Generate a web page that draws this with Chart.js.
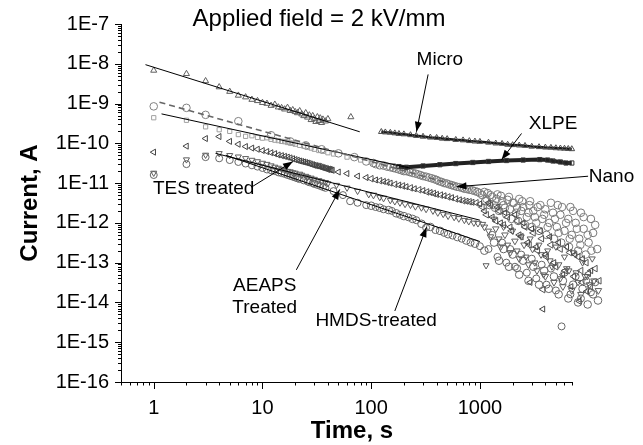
<!DOCTYPE html>
<html><head><meta charset="utf-8">
<script src="https://cdn.jsdelivr.net/npm/chart.js@4.4.0/dist/chart.umd.min.js"></script>
<style>html,body{margin:0;padding:0;background:#fff}#wrap{width:643px;height:445px}</style>
</head><body><div id="wrap"><canvas id="c" width="643" height="445"></canvas></div>
<script>
// ---- axis definitions ----
const X_MIN = 0.5, X_MAX = 7000, X_VIEW_MAX = 13000, Y_MIN = 1e-16, Y_MAX = 1e-7;
const xTickValues = [1, 10, 100, 1000];
const xTickLabels = ['1', '10', '100', '1000'];
const yTickValues = [1e-16, 1e-15, 1e-14, 1e-13, 1e-12, 1e-11, 1e-10, 1e-9, 1e-8, 1e-7];
const yTickLabels = ['1E-16', '1E-15', '1E-14', '1E-13', '1E-12', '1E-11', '1E-10', '1E-9', '1E-8', '1E-7'];
const titleText = 'Applied field = 2 kV/mm';
const xTitle = 'Time, s';
const yTitle = 'Current, A';

// ---- series: [time s, current A] ----
const microA = [[1,6.8e-9],[2,5.6e-9],[3,3.7e-9],[4,2.6e-9],[5,2.0e-9],[6,1.6e-9],[7,1.45e-9],[8,1.26e-9],[9,1.17e-9],[10,1.05e-9],[11,1.0e-9],[12,8.9e-10],[13,9.5e-10],[14,8.1e-10],[15,7.8e-10],[16,7.2e-10],[17,7.9e-10],[18,6.6e-10],[19,6.9e-10],[20,6.2e-10],[21,5.8e-10],[22,6.5e-10],[23,5.4e-10],[24,4.9e-10],[25,5.8e-10],[26,4.5e-10],[27,5.1e-10],[28,3.9e-10],[29,4.9e-10],[30,4.2e-10],[31,3.5e-10],[32,4.6e-10],[33,3.7e-10],[34,4.3e-10],[35,3.3e-10],[36,4.0e-10],[38,3.6e-10],[40,4.1e-10],[65,4.6e-10]];
const microB = [[124,1.95e-10],[135,1.9e-10],[150,1.86e-10],[165,1.8e-10],[180,1.74e-10],[200,1.7e-10],[230,1.62e-10],[260,1.55e-10],[300,1.48e-10],[350,1.41e-10],[400,1.38e-10],[450,1.32e-10],[500,1.29e-10],[600,1.23e-10],[700,1.2e-10],[800,1.15e-10],[900,1.12e-10],[1000,1.1e-10],[1200,1.05e-10],[1400,1.0e-10],[1600,9.8e-11],[1800,9.3e-11],[2000,9.1e-11],[2300,8.9e-11],[2600,8.7e-11],[3000,8.3e-11],[3500,8.1e-11],[4000,7.9e-11],[4500,7.8e-11],[5000,7.6e-11],[5500,7.5e-11],[6000,7.4e-11],[6500,7.3e-11],[7000,7.2e-11]];
const xlpeA = [[1,4.4e-10],[2,3.8e-10],[3,2.6e-10],[4,2.2e-10],[5,2.0e-10],[6,1.66e-10],[7,1.5e-10],[8,1.55e-10],[9,1.41e-10],[10,1.35e-10],[11,1.38e-10],[12,1.26e-10],[13,1.2e-10],[14,1.17e-10],[15,1.12e-10],[16,1.1e-10],[17,1.05e-10],[18,1.02e-10],[19,1.0e-10],[20,9.5e-11],[22,8.9e-11],[24,8.5e-11],[26,7.9e-11],[28,7.6e-11],[30,7.1e-11],[33,6.6e-11],[36,6.3e-11],[40,5.8e-11],[45,5.4e-11],[60,4.5e-11],[80,3.8e-11],[100,3.4e-11],[130,3.0e-11],[160,2.75e-11]];
const xlpeB = [[180,2.6e-11],[211,2.5e-11],[300,2.7e-11],[428,2.9e-11],[600,3.1e-11],[861,3.3e-11],[1200,3.5e-11],[1757,3.7e-11],[2500,3.8e-11],[3556,3.9e-11],[4200,3.8e-11],[4700,3.6e-11],[5500,3.4e-11],[6200,3.2e-11],[7000,3.2e-11]];
const nano = [[1,8.5e-10],[2,7.8e-10],[3,5.2e-10],[6,3.6e-10],[12,1.6e-10],[18,1.12e-10],[25,8.9e-11],[35,7.1e-11],[50,5.6e-11],[70,4.5e-11],[90,3.5e-11],[110,3.0e-11],[130,2.75e-11],[150,2.5e-11],[170,2.3e-11],[190,2.1e-11],[210,2.0e-11],[240,1.8e-11],[270,1.66e-11],[300,1.5e-11],[340,1.38e-11],[380,1.26e-11],[420,1.12e-11],[470,1.0e-11],[520,9.3e-12],[580,8.5e-12],[650,7.9e-12],[720,7.2e-12],[800,6.8e-12],[900,6.3e-12],[1000,5.6e-12],[1100,6.0e-12],[1150,4.0e-12],[1250,5.0e-12],[1350,2.8e-12],[1450,5.2e-12],[1600,3.5e-12],[1700,2.4e-12],[1850,4.5e-12],[2000,3.2e-12],[2150,1.8e-12],[2300,4.0e-12],[2500,2.5e-12],[2700,1.4e-12],[2900,3.5e-12],[3100,2.0e-12],[3300,1.0e-12],[3600,2.8e-12],[3900,1.6e-12],[4200,7.9e-13],[4500,3.2e-12],[4900,1.26e-12],[5300,5.6e-13],[5700,2.5e-12],[6200,1.0e-12],[6700,4.0e-13],[7200,2.0e-12],[7800,7.1e-13],[8400,2.8e-13],[9000,1.4e-12],[9800,5.0e-13],[10600,2.0e-13],[11500,8.9e-13]];
const nanoLate = [[105,3.2e-11],[120,2.8e-11],[140,2.6e-11],[160,2.4e-11],[180,2.2e-11],[200,2.0e-11],[225,1.9e-11],[255,1.74e-11],[285,1.58e-11],[320,1.45e-11],[360,1.32e-11],[400,1.2e-11],[445,1.07e-11],[495,9.8e-12],[550,8.9e-12],[615,8.1e-12],[685,7.6e-12],[760,7.1e-12],[850,6.6e-12],[950,6.0e-12],[1050,5.0e-12],[1120,3.55e-12],[1180,5.6e-12],[1230,2.8e-12],[1300,4.5e-12],[1380,2.4e-12],[1420,4.0e-12],[1500,2.0e-12],[1560,4.8e-12],[1650,2.8e-12],[1750,1.6e-12],[1800,3.8e-12],[1900,2.2e-12],[1950,1.26e-12],[2050,3.2e-12],[2200,2.4e-12],[2250,1.12e-12],[2400,2.0e-12],[2450,3.5e-12],[2600,8.9e-13],[2800,1.8e-12],[2850,2.8e-12],[3000,7.9e-13],[3200,1.4e-12],[3400,2.5e-12],[3500,6.3e-13],[3750,1.26e-12],[4000,2.2e-12],[4100,5.0e-13],[4350,1.0e-12],[4700,1.8e-12],[4800,4.0e-13],[5100,7.9e-13],[5200,2.8e-12],[5500,1.6e-12],[5600,3.2e-13],[6000,6.3e-13],[6500,1.26e-12],[6600,2.5e-13],[6800,2.5e-12],[7000,5.0e-13],[7600,1.0e-12],[8000,2.0e-13],[8200,4.0e-13],[8500,1.8e-12],[9000,7.1e-13],[9400,1.6e-13],[10000,3.2e-13],[10500,1.26e-12],[11000,5.6e-13],[12000,2.2e-13]];
const tes = [[1,6.0e-11],[2,8.5e-11],[3,1.32e-10],[4,1.48e-10],[5,1.12e-10],[6,9.5e-11],[7,8.3e-11],[8,7.6e-11],[9,7.1e-11],[10,6.6e-11],[11,6.2e-11],[12,5.8e-11],[13,5.5e-11],[14,5.1e-11],[15,4.9e-11],[16,4.7e-11],[17,4.5e-11],[18,4.3e-11],[19,4.1e-11],[20,3.9e-11],[21,3.75e-11],[22,3.6e-11],[23,3.5e-11],[24,3.4e-11],[25,3.3e-11],[26,3.2e-11],[27,3.1e-11],[28,3.0e-11],[29,2.9e-11],[30,2.8e-11],[31,2.75e-11],[32,2.7e-11],[33,2.65e-11],[34,2.6e-11],[35,2.5e-11],[36,2.45e-11],[37,2.4e-11],[38,2.35e-11],[39,2.3e-11],[40,2.2e-11],[41,2.25e-11],[42,2.2e-11],[43,2.15e-11],[44,2.1e-11],[50,1.9e-11],[60,1.74e-11],[75,1.5e-11],[90,1.38e-11],[110,1.2e-11],[130,1.1e-11],[150,1.0e-11],[180,8.9e-12],[210,8.1e-12],[250,7.2e-12],[300,6.5e-12],[350,5.8e-12],[400,5.2e-12],[470,4.8e-12],[550,4.3e-12],[650,3.8e-12],[750,3.5e-12],[850,3.3e-12],[1000,3.0e-12],[1100,2.0e-12],[1200,3.2e-12],[1300,1.4e-12],[1450,2.5e-12],[1550,1.0e-12],[1700,1.8e-12],[1900,7.9e-13],[2100,1.6e-12],[2300,5.0e-13],[2500,1.0e-12],[2750,3.2e-13],[2900,3.2e-14],[3000,7.1e-13],[3300,2.5e-13],[3600,6.3e-13],[3800,6.8e-15],[4000,1.6e-13],[4400,4.5e-13],[4800,1.0e-13],[5300,3.2e-13],[5800,5.0e-14],[6300,2.5e-13],[6900,2.5e-14],[7500,1.6e-13],[8200,1.07e-14],[8800,1.26e-13],[9600,1.9e-14],[10500,6.3e-14]];
const tesLate = [[100,1.29e-11],[120,1.15e-11],[140,1.05e-11],[165,9.3e-12],[195,8.5e-12],[230,7.6e-12],[275,6.8e-12],[325,6.0e-12],[375,5.5e-12],[435,5.0e-12],[510,4.5e-12],[600,4.0e-12],[700,3.6e-12],[800,3.4e-12],[925,3.2e-12],[1050,2.5e-12],[1150,1.6e-12],[1250,2.8e-12],[1400,1.12e-12],[1500,2.0e-12],[1650,8.9e-13],[1800,1.4e-12],[1950,6.3e-13],[2200,1.12e-12],[2400,4.5e-13],[2600,7.9e-13],[2850,2.8e-13],[3100,5.6e-13],[3400,2.0e-13],[3700,4.0e-13],[3800,2.1e-14],[4100,1.4e-13],[4500,2.8e-13],[5000,7.9e-14],[5500,2.2e-13],[6100,6.3e-14],[6700,1.8e-13],[7300,4.5e-14],[8000,1.4e-13],[8500,6.3e-14],[8700,3.2e-14],[9500,1.0e-13],[10000,5.4e-14],[10400,2.5e-14],[11500,7.1e-14],[12500,3.5e-14]];
const aeaps = [[1,1.8e-11],[2,3.9e-11],[3,5.1e-11],[4,5.6e-11],[5,5.0e-11],[6,4.6e-11],[7,4.2e-11],[8,3.8e-11],[9,3.5e-11],[10,3.2e-11],[11,3.0e-11],[12,2.75e-11],[13,2.55e-11],[14,2.4e-11],[15,2.25e-11],[16,2.1e-11],[17,2.0e-11],[18,1.95e-11],[19,1.85e-11],[20,1.8e-11],[22,1.7e-11],[23,1.6e-11],[25,1.5e-11],[26,1.41e-11],[28,1.35e-11],[30,1.26e-11],[33,1.17e-11],[35,1.1e-11],[38,1.05e-11],[40,9.8e-12],[48,8.9e-12],[60,7.6e-12],[75,6.3e-12],[95,5.2e-12],[120,4.4e-12],[150,3.7e-12],[184,3.2e-12],[230,2.8e-12],[290,2.4e-12],[370,2.0e-12],[460,1.66e-12],[580,1.38e-12],[720,1.17e-12],[880,1.0e-12],[1060,9.3e-13],[1140,8.5e-14],[1200,6.3e-13],[1350,1.26e-12],[1500,4.0e-13],[1650,7.9e-13],[1800,2.8e-13],[2000,6.3e-13],[2200,2.0e-13],[2400,4.5e-13],[2650,1.4e-13],[2900,4.0e-13],[3200,1.0e-13],[3500,2.8e-13],[3850,5.0e-14],[4200,2.0e-13],[4600,7.9e-14],[5000,2.5e-13],[5500,4.0e-14],[6000,1.4e-13],[6600,6.3e-14],[7200,1.8e-13],[8000,3.2e-14],[8800,1.0e-13],[9700,4.5e-14],[10800,1.26e-13]];
const aeapsLate = [[105,5.0e-12],[130,4.2e-12],[165,3.5e-12],[205,3.0e-12],[255,2.6e-12],[320,2.24e-12],[410,1.82e-12],[510,1.51e-12],[640,1.29e-12],[790,1.1e-12],[960,9.8e-13],[1100,7.9e-13],[1250,4.5e-13],[1400,7.1e-13],[1550,2.5e-13],[1700,5.0e-13],[1900,1.8e-13],[2100,3.5e-13],[2300,1.26e-13],[2550,2.8e-13],[2800,8.9e-14],[3050,2.2e-13],[3350,6.3e-14],[3650,1.6e-13],[4000,4.5e-14],[4400,1.12e-13],[4800,3.2e-14],[5300,8.9e-14],[5800,2.5e-14],[6300,7.1e-14],[7000,2.0e-14],[7700,5.6e-14],[8500,1.6e-14],[9300,4.5e-14],[10200,2.8e-14],[11200,3.5e-14],[12300,2.0e-14]];
const hmds = [[1,1.6e-11],[2,3.0e-11],[3,4.5e-11],[4,4.2e-11],[5,3.8e-11],[6,3.4e-11],[7,3.1e-11],[8,2.8e-11],[9,2.6e-11],[10,2.4e-11],[11,2.2e-11],[12,2.1e-11],[13,2.0e-11],[14,1.86e-11],[15,1.78e-11],[16,1.7e-11],[17,1.6e-11],[18,1.52e-11],[19,1.45e-11],[20,1.38e-11],[21,1.32e-11],[22,1.26e-11],[24,1.17e-11],[26,1.1e-11],[27,1.05e-11],[29,1.0e-11],[30,9.5e-12],[32,9.0e-12],[34,8.5e-12],[36,8.0e-12],[38,7.6e-12],[45,6.3e-12],[55,5.0e-12],[64,3.5e-12],[75,3.2e-12],[90,2.8e-12],[110,2.5e-12],[130,2.2e-12],[155,2.0e-12],[184,1.6e-12],[220,1.38e-12],[260,1.17e-12],[320,7.6e-13],[390,6.6e-13],[470,5.6e-13],[560,4.8e-13],[680,4.0e-13],[820,3.2e-13],[1000,2.6e-13],[1200,2.2e-13],[1300,5.0e-13],[1450,1.4e-13],[1600,3.2e-13],[1750,1.0e-13],[1900,2.2e-13],[2100,7.9e-14],[2200,7.2e-14],[2400,1.6e-13],[2700,5.6e-14],[3000,1.26e-13],[3300,4.0e-14],[3700,8.9e-14],[4100,2.8e-14],[4500,7.1e-14],[5000,2.0e-14],[5640,2.5e-15],[6000,5.6e-14],[6800,1.6e-14],[7600,4.5e-14],[8500,1.26e-14],[9500,3.5e-14],[10500,1.8e-14],[11500,3.2e-14]];
const hmdsLate = [[100,2.7e-12],[120,2.4e-12],[145,2.1e-12],[170,1.74e-12],[200,1.48e-12],[240,1.26e-12],[290,9.5e-13],[350,7.9e-13],[430,6.3e-13],[510,5.2e-13],[620,4.4e-13],[750,3.6e-13],[900,3.0e-13],[1100,2.0e-13],[1350,3.2e-13],[1500,1.12e-13],[1650,2.2e-13],[1850,7.9e-14],[2000,1.6e-13],[2300,5.0e-14],[2500,1.12e-13],[2800,3.5e-14],[3100,7.9e-14],[3500,2.8e-14],[3900,6.3e-14],[4300,2.2e-14],[4800,4.5e-14],[5300,1.6e-14],[5800,3.5e-14],[6500,1.26e-14],[7200,2.8e-14],[8000,1.0e-14],[8800,2.2e-14],[9800,8.9e-15],[11000,1.6e-14],[12200,1.12e-14]];

// ---- fitted straight lines (end points) ----
const microFit = [[0.84,9.5e-9],[78.5,1.95e-10]];
const nanoFit  = [[1.13,1.08e-9],[800,7.1e-12]];
const xlpeFit  = [[1.18,5.5e-10],[226,2.4e-11]];
const aeapsFit = [[3.7,5.6e-11],[1000,1.17e-12]];
const hmdsFit  = [[4.6,5.0e-11],[1000,3.4e-13]];

// ---- annotation labels: text, text anchor, arrow start, arrow tip (data coords) ----
const annLabels = [['Micro'], ['XLPE'], ['Nano'], ['TES treated'], ['AEAPS', 'Treated'], ['HMDS-treated']];
const annAt   = [[428,1.28e-8],[4713,3.13e-10],[16250,1.43e-11],[2.88,7.2e-12],[10.5,1.35e-14],[111,3.5e-15]];
const annFrom = [[334,5.4e-9],[2415,1.77e-10],[9890,1.49e-11],[8.2,8.4e-12],[20.5,6.6e-14],[165,6.1e-15]];
const annTo   = [[261,1.95e-10],[1580,3.85e-11],[609,8.1e-12],[19.1,3.5e-11],[51.4,6.95e-12],[323,7.8e-13]];

const FONT = '"Liberation Sans", Arial, Helvetica, sans-serif';
const xy = a => a.map(p => ({x: p[0], y: p[1]}));

function scat(pts, style, color, rot, r) {
  return {type: 'scatter', data: xy(pts), showLine: false, pointStyle: style, rotation: rot || 0,
    pointRadius: r || 3.3, pointBorderWidth: 1, pointBorderColor: color, pointBackgroundColor: 'rgba(0,0,0,0)', clip: false};
}
function fit(pts, color, width, dash) {
  return {type: 'line', data: xy(pts), showLine: true, borderColor: color, borderWidth: width, borderDash: dash || [],
    pointRadius: 0, fill: false, tension: 0, clip: false};
}
const bandMicro = Object.assign(scat(microB, 'triangle', '#4a4a4a', 0, 3.3), {showLine: true, borderColor: '#1a1a1a', borderWidth: 2.5});
const bandXlpe = Object.assign(scat(xlpeB, 'rect', '#333', 0, 3), {showLine: true, borderColor: '#222', borderWidth: 4});

function makeTicks(min, max, vals, labels) {
  const out = [];
  for (let k = Math.floor(Math.log10(min)) - 1; k <= Math.ceil(Math.log10(max)); k++) {
    for (let m = 1; m <= 9; m++) {
      const v = m * Math.pow(10, k);
      if (v < min * 0.999 || v > max * 1.001) continue;
      const i = vals.findIndex(t => Math.abs(t - v) / t < 1e-6);
      out.push({value: v, major: m === 1, lbl: i >= 0 ? labels[i] : ''});
    }
  }
  return out;
}

const decor = {
  id: 'decor',
  afterDraw(chart) {
    const ctx = chart.ctx, xs = chart.scales.x, ys = chart.scales.y, ca = chart.chartArea;
    ctx.save();
    ctx.strokeStyle = '#000'; ctx.fillStyle = '#000'; ctx.lineWidth = 1;
    ctx.beginPath();
    const yb = Math.round(ca.bottom) + 0.5;
    ctx.moveTo(xs.getPixelForValue(X_MIN), yb); ctx.lineTo(xs.getPixelForValue(X_MAX) + 0.5, yb);
    xs.ticks.forEach(t => { const p = Math.round(xs.getPixelForValue(t.value)) + 0.5; ctx.moveTo(p, ca.bottom); ctx.lineTo(p, ca.bottom + (t.major ? 7 : 3.5)); });
    ys.ticks.forEach(t => { const p = Math.round(ys.getPixelForValue(t.value)) + 0.5; ctx.moveTo(ca.left, p); ctx.lineTo(ca.left - (t.major ? 6 : 3), p); });
    ctx.stroke();
    ctx.textAlign = 'center'; ctx.textBaseline = 'middle';
    ctx.font = '24px ' + FONT;
    ctx.fillText(titleText, 319, 19);
    ctx.font = 'bold 24px ' + FONT;
    ctx.fillText(xTitle, 352, 431);
    ctx.save(); ctx.translate(30, 203); ctx.rotate(-Math.PI / 2); ctx.fillText(yTitle, 0, 0); ctx.restore();
    ctx.font = '19px ' + FONT;
    annLabels.forEach((lines, i) => {
      const tx = xs.getPixelForValue(annAt[i][0]), ty = ys.getPixelForValue(annAt[i][1]);
      const lh = 22, y0 = ty - (lines.length - 1) * lh / 2;
      lines.forEach((s, j) => ctx.fillText(s, tx, y0 + j * lh));
      const x1 = xs.getPixelForValue(annFrom[i][0]), y1 = ys.getPixelForValue(annFrom[i][1]);
      const x2 = xs.getPixelForValue(annTo[i][0]), y2 = ys.getPixelForValue(annTo[i][1]);
      ctx.beginPath(); ctx.moveTo(x1, y1); ctx.lineTo(x2, y2); ctx.stroke();
      const a = Math.atan2(y2 - y1, x2 - x1), L = 10, W = 3.6;
      ctx.beginPath(); ctx.moveTo(x2, y2);
      ctx.lineTo(x2 - L * Math.cos(a) + W * Math.sin(a), y2 - L * Math.sin(a) - W * Math.cos(a));
      ctx.lineTo(x2 - L * Math.cos(a) - W * Math.sin(a), y2 - L * Math.sin(a) + W * Math.cos(a));
      ctx.closePath(); ctx.fill();
    });
    ctx.restore();
  }
};

new Chart(document.getElementById('c'), {
  type: 'scatter',
  data: {datasets: [
    fit(microFit, '#000', 1), fit(nanoFit, '#666', 1.6, [6, 4]), fit(xlpeFit, '#000', 1),
    fit(aeapsFit, '#000', 1), fit(hmdsFit, '#000', 1),
    bandMicro, bandXlpe,
    scat(microA, 'triangle', '#5e5e5e', 0, 3.5),
    scat(xlpeA, 'rect', '#a0a0a0', 0, 3),
    scat(tes, 'triangle', '#444', -90, 3.5),
    scat(tesLate, 'triangle', '#555', -90, 3.8),
    scat(nano, 'circle', '#808080', 0, 3.8),
    scat(nanoLate, 'circle', '#757575', 0, 3.8),
    scat(aeaps, 'triangle', '#5e5e5e', 180, 3.5),
    scat(aeapsLate, 'triangle', '#606060', 180, 3.8),
    scat(hmds, 'circle', '#666', 0, 3.5),
    scat(hmdsLate, 'circle', '#666', 0, 3.8)
  ]},
  options: {
    responsive: false, animation: false, devicePixelRatio: 1,
    layout: {padding: {left: 0, top: 19, right: 42, bottom: 0}},
    plugins: {legend: {display: false}, tooltip: {enabled: false}, title: {display: false}},
    scales: {
      x: {type: 'logarithmic', position: 'bottom', bounds: 'data',
        afterBuildTicks: s => { s.ticks = makeTicks(X_MIN, X_MAX, xTickValues, xTickLabels); s.min = X_MIN; s.max = X_VIEW_MAX; },
        afterFit: s => { s.height = 63; },
        grid: {display: false, drawTicks: false},
        border: {display: false},
        ticks: {autoSkip: false, maxRotation: 0, padding: 14, color: '#000', font: {family: FONT, size: 20},
          callback: (v, i, t) => t[i].lbl}
      },
      y: {type: 'logarithmic', position: 'left', bounds: 'data',
        afterBuildTicks: s => { s.ticks = makeTicks(Y_MIN, Y_MAX, yTickValues, yTickLabels); s.min = Y_MIN; s.max = Y_MAX; },
        afterFit: s => { s.width = 121; },
        grid: {display: false, drawTicks: false},
        border: {display: true, color: '#000', width: 1},
        ticks: {autoSkip: false, padding: 12, color: '#000', font: {family: FONT, size: 20},
          callback: (v, i, t) => t[i].lbl}
      }
    }
  },
  plugins: [decor]
});
</script></body></html>
